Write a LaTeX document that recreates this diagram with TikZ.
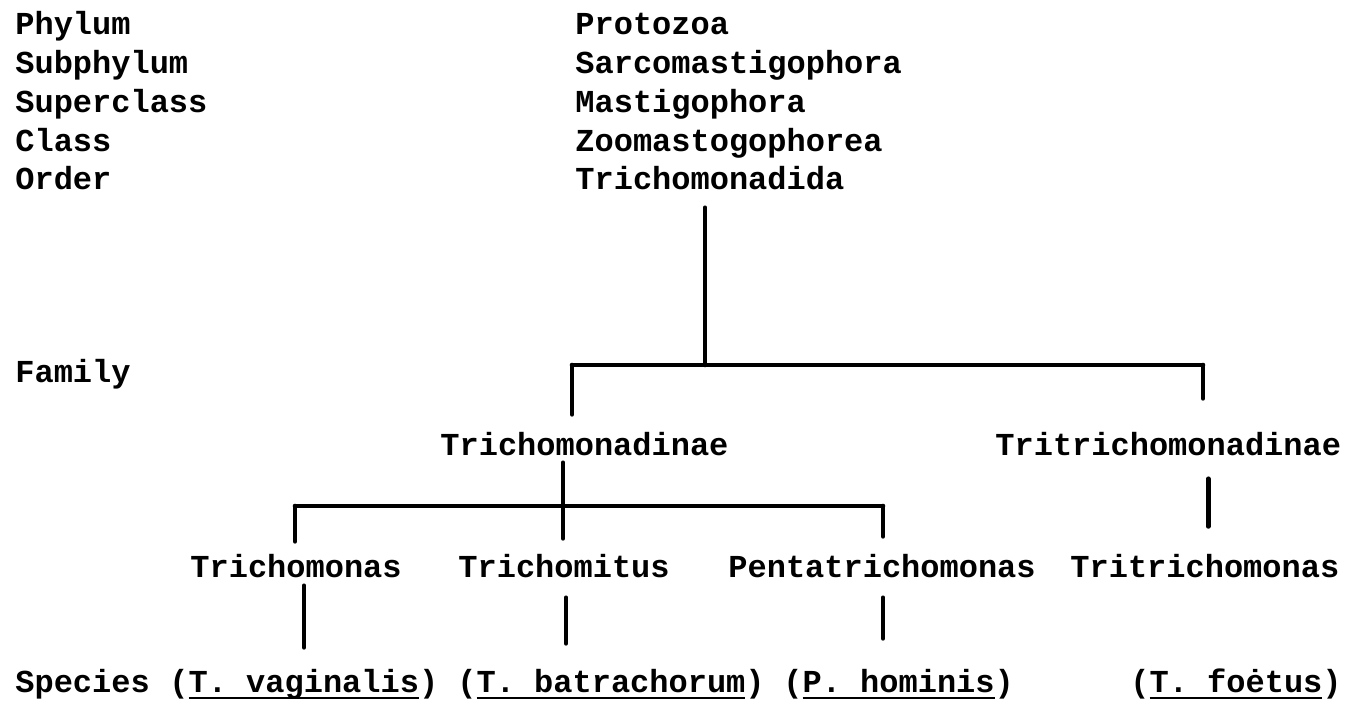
\documentclass[tikz,border=0pt]{standalone}
\usepackage{fontspec}
\setmonofont{Liberation Mono}
\usepackage{tikz}
\newcommand{\tw}{\ttfamily\bfseries\fontsize{16pt}{16pt}\selectfont}
\newcommand{\spname}[1]{\setbox0\hbox{#1}\rlap{\rule[-3.4pt]{\wd0}{1.1pt}}\box0}

\begin{document}
\begin{tikzpicture}[
  x=0.5pt,y=-0.5pt,
  rank/.style={anchor=base west,inner sep=0pt,font=\tw},
  taxon/.style={anchor=base west,inner sep=0pt,font=\tw},
  branch/.style={line width=2.3pt,line cap=round}
]
  \useasboundingbox (0,0) rectangle (1355,701);
  % ranks
  \node[rank] (phy) at (15,35) {Phylum};
  \node[rank] (sub) at (15,74) {Subphylum};
  \node[rank] (sup) at (15,113) {Superclass};
  \node[rank] (cls) at (15,152) {Class};
  \node[rank] (ordr) at (15,190) {Order};
  \node[rank] (famr) at (15,382) {Family};
  \node[rank] (spr) at (15,692) {Species};
  % higher taxa
  \node[taxon] (proto) at (575,35) {Protozoa};
  \node[taxon] (sarco) at (575,74) {Sarcomastigophora};
  \node[taxon] (mast) at (575,113) {Mastigophora};
  \node[taxon] (zoo) at (575,152) {Zoomastogophorea};
  \node[taxon] (ord) at (575,190) {Trichomonadida};
  % families
  \node[taxon] (tnae) at (440,455) {Trichomonadinae};
  \node[taxon] (ttnae) at (995,455) {Tritrichomonadinae};
  % genera
  \node[taxon] (tmon) at (190,577) {Trichomonas};
  \node[taxon] (tmit) at (458,577) {Trichomitus};
  \node[taxon] (pent) at (728,577) {Pentatrichomonas};
  \node[taxon] (ttri) at (1070,577) {Tritrichomonas};
  % species
  \node[taxon] (vag) at (169,692) {(\spname{T. vaginalis})};
  \node[taxon] (bat) at (457,692) {(\spname{T. batrachorum})};
  \node[taxon] (hom) at (783,692) {(\spname{P. hominis})};
  \node[taxon] (foe) at (1130,692) {(\spname{T. foėtus})};

  % order to families
  \coordinate (fam) at (705,365);
  \coordinate (famL) at (572,365);
  \coordinate (famR) at (1203,365);
  \draw[branch,shorten <=8.5pt] (fam |- ord.south) -- (fam);
  \draw[branch] (famL) -- (famR);
  \draw[branch,shorten >=8.5pt] (famL) -- (famL |- tnae.north);
  \draw[branch,shorten >=16.5pt] (famR) -- (famR |- ttnae.north);
  % Trichomonadinae to genera
  \coordinate (gen) at (563,506);
  \coordinate (genL) at (295,506);
  \coordinate (genR) at (883,506);
  \draw[branch,shorten <=3.5pt,shorten >=7.5pt] (gen |- tnae.south) -- (gen |- tmit.north);
  \draw[branch] (genL) -- (genR);
  \draw[branch,shorten >=6pt] (genL) -- (genL |- tmon.north);
  \draw[branch,shorten >=8.5pt] (genR) -- (genR |- pent.north);
  \draw[branch,shorten <=11.5pt,shorten >=13.5pt] ([xshift=20pt]ttnae.south) -- ([xshift=20pt]ttnae.south |- ttri.north);
  % genera to species
  \draw[branch,shorten <=4pt,shorten >=10.5pt] ([xshift=4pt]tmon.south) -- ([xshift=4pt]tmon.south |- vag.north);
  \draw[branch,shorten <=10pt,shorten >=12.5pt] ([xshift=1pt]tmit.south) -- ([xshift=1pt]tmit.south |- bat.north);
  \draw[branch,shorten <=10pt,shorten >=15pt] (genR |- pent.south) -- (genR |- hom.north);
\end{tikzpicture}
\end{document}
